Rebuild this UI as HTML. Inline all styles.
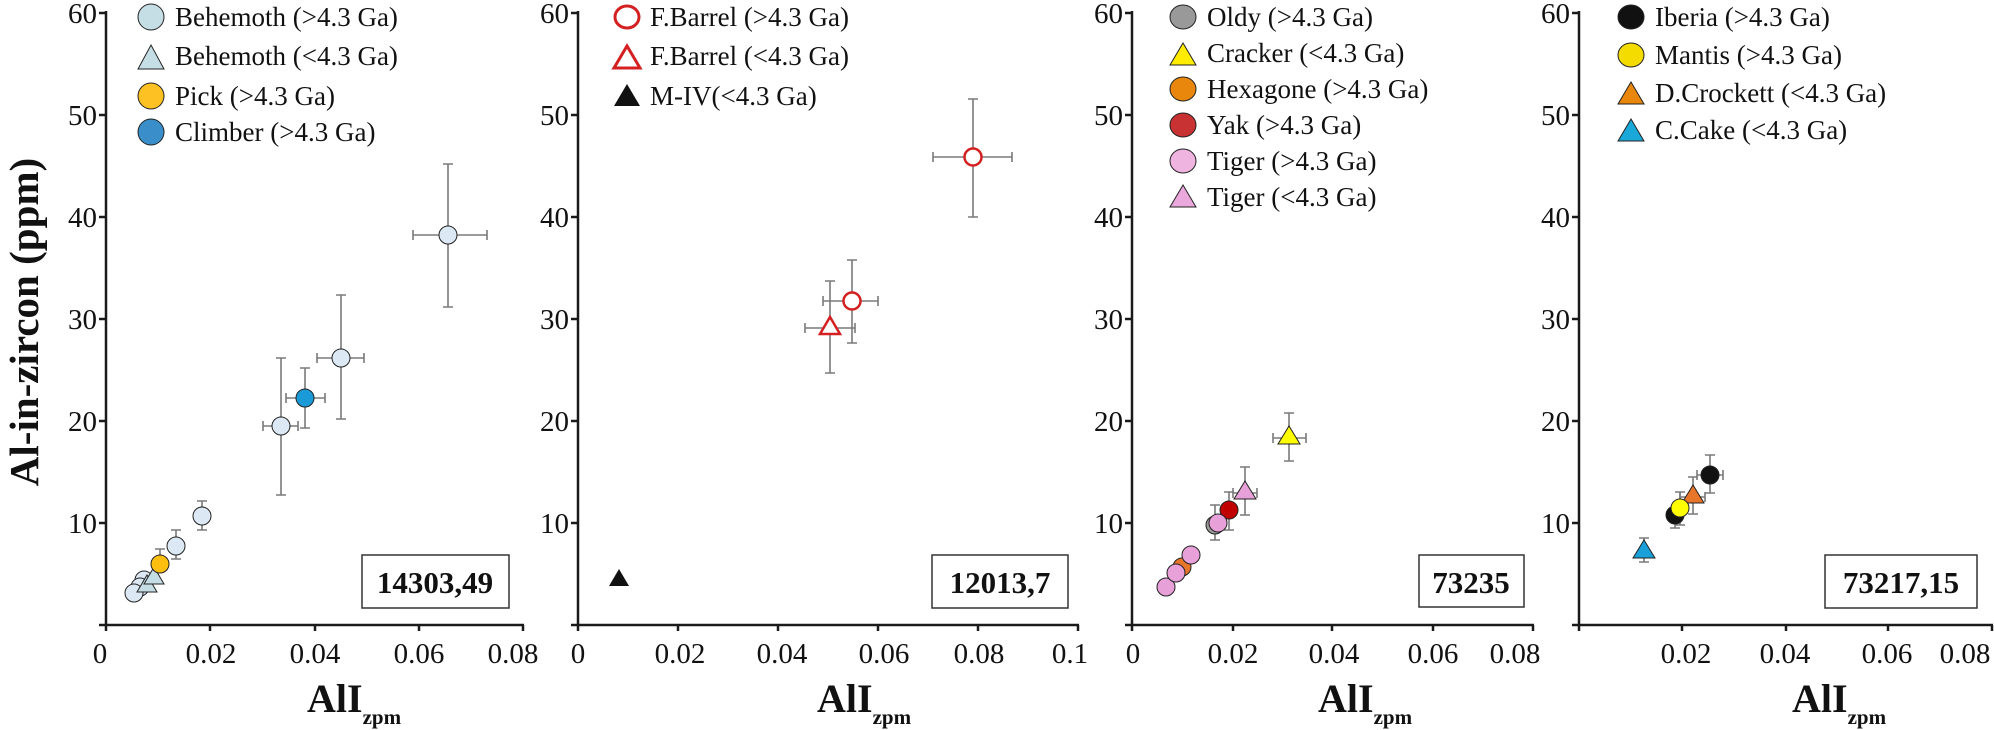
<!DOCTYPE html>
<html><head><meta charset="utf-8"><style>
html,body{margin:0;padding:0;background:#fff;}
svg{display:block;font-family:"Liberation Serif","DejaVu Serif",serif;}
svg text{font-family:"Liberation Serif","DejaVu Serif",serif !important;fill:#111;}
.tk{font-size:29px;}
.lg{font-size:27px;}
.bx{font-size:31px;font-weight:bold;}
.ax{stroke:#1a1a1a;stroke-width:2.5;fill:none;}
.eb{stroke:#7a7a7a;stroke-width:1.6;fill:none;}
.m{stroke:#222;stroke-width:1;}
</style></head><body>
<svg width="1994" height="730" viewBox="0 0 1994 730" xmlns="http://www.w3.org/2000/svg" font-family="Liberation Serif, serif">
<defs>
<g id="yt">
<line x1="-7" y1="13" x2="0" y2="13" class="ax"/>
<line x1="-7" y1="115" x2="0" y2="115" class="ax"/>
<line x1="-7" y1="217" x2="0" y2="217" class="ax"/>
<line x1="-7" y1="319" x2="0" y2="319" class="ax"/>
<line x1="-7" y1="421" x2="0" y2="421" class="ax"/>
<line x1="-7" y1="523" x2="0" y2="523" class="ax"/>
<line x1="-7" y1="625" x2="0" y2="625" class="ax"/>
<line x1="0" y1="11" x2="0" y2="626" class="ax"/>
<g text-anchor="end" font-family="Liberation Serif, serif" font-size="29">
<text x="-9" y="23">60</text>
<text x="-9" y="125">50</text>
<text x="-9" y="227">40</text>
<text x="-9" y="329">30</text>
<text x="-9" y="431">20</text>
<text x="-9" y="533">10</text>
</g>
</g>
</defs>

<text transform="translate(38,322) rotate(-90)" text-anchor="middle" font-family="Liberation Serif, serif" style="font-size:41px;font-weight:bold;">Al-in-zircon (ppm)</text>

<!-- ============ Panel 1 ============ -->
<use href="#yt" x="106"/>
<line x1="106" y1="625" x2="524" y2="625" class="ax"/>
<g class="ax"><line x1="106" y1="625" x2="106" y2="631"/><line x1="210" y1="625" x2="210" y2="631"/><line x1="315" y1="625" x2="315" y2="631"/><line x1="419" y1="625" x2="419" y2="631"/><line x1="523" y1="625" x2="523" y2="631"/></g>
<g class="tk" text-anchor="middle"><text x="100" y="663" class="tk">0</text><text x="211" y="663" class="tk">0.02</text><text x="315" y="663" class="tk">0.04</text><text x="419" y="663" class="tk">0.06</text><text x="513" y="663" class="tk">0.08</text></g>
<text x="307" y="712" style="font-size:40px;font-weight:bold;">AlI<tspan dy="12" style="font-size:21px;">zpm</tspan></text>
<rect x="362" y="555" width="147" height="53" fill="#fff" stroke="#333" stroke-width="1.5"/>
<text x="435" y="593" text-anchor="middle" class="bx">14303,49</text>
<ellipse cx="151" cy="17" rx="13" ry="13" fill="#c5dde4" class="m"/>
<polygon points="138,69 164,69 151,45" fill="#c5dde4" class="m"/>
<ellipse cx="151" cy="96" rx="13" ry="13" fill="#fdc124" class="m"/>
<ellipse cx="151" cy="132" rx="13" ry="13" fill="#3a8fca" class="m"/>
<text x="175" y="26" class="lg">Behemoth (&gt;4.3 Ga)</text>
<text x="175" y="65" class="lg">Behemoth (&lt;4.3 Ga)</text>
<text x="175" y="105" class="lg">Pick (&gt;4.3 Ga)</text>
<text x="175" y="141" class="lg">Climber (&gt;4.3 Ga)</text>
<g class="eb">
<path d="M413,235H487M413,230V240M487,230V240M448,164V307M443,164H453M443,307H453"/>
<path d="M317,358H364M317,353V363M364,353V363M341,295V419M336,295H346M336,419H346"/>
<path d="M286,398H325M286,393V403M325,393V403M305,368V428M300,368H310M300,428H310"/>
<path d="M263,426H298M263,421V431M298,421V431M281,358V495M276,358H286M276,495H286"/>
<path d="M194,516H210M202,501V530M197,501H207M197,530H207"/>
<path d="M176,530V559M171,530H181M171,559H181"/>
<path d="M160,549V564M155,549H165"/>
</g>
<g class="m" fill="#dce9f5">
<circle cx="448" cy="235" r="9"/>
<circle cx="341" cy="358" r="9"/>
<circle cx="281" cy="426" r="9"/>
<circle cx="202" cy="516" r="9"/>
<circle cx="176" cy="546" r="9"/>
<circle cx="144" cy="580" r="9"/>
<circle cx="140" cy="587" r="9"/>
<circle cx="134" cy="593" r="9"/>
<polygon points="137,592 157,592 147,575" fill="#c5dde4"/>
<polygon points="144,584 164,584 154,567" fill="#c5dde4"/>
</g>
<circle cx="305" cy="398" r="9" fill="#1a9ad6" class="m"/>
<circle cx="160" cy="564" r="9" fill="#fdbf0f" class="m"/>

<!-- ============ Panel 2 ============ -->
<use href="#yt" x="578"/>
<line x1="578" y1="625" x2="1079" y2="625" class="ax"/>
<g class="ax"><line x1="578" y1="625" x2="578" y2="631"/><line x1="678" y1="625" x2="678" y2="631"/><line x1="778" y1="625" x2="778" y2="631"/><line x1="878" y1="625" x2="878" y2="631"/><line x1="978" y1="625" x2="978" y2="631"/><line x1="1078" y1="625" x2="1078" y2="631"/></g>
<g class="tk" text-anchor="middle"><text x="578" y="663" class="tk">0</text><text x="680" y="663" class="tk">0.02</text><text x="782" y="663" class="tk">0.04</text><text x="884" y="663" class="tk">0.06</text><text x="979" y="663" class="tk">0.08</text><text x="1070" y="663" class="tk">0.1</text></g>
<text x="817" y="712" style="font-size:40px;font-weight:bold;">AlI<tspan dy="12" style="font-size:21px;">zpm</tspan></text>
<rect x="932" y="555" width="136" height="53" fill="#fff" stroke="#333" stroke-width="1.5"/>
<text x="1000" y="593" text-anchor="middle" class="bx">12013,7</text>
<ellipse cx="627" cy="17" rx="12" ry="11" fill="#fff" stroke="#d42020" stroke-width="3"/>
<polygon points="614,68 640,68 627,46" fill="#fff" stroke="#d42020" stroke-width="3"/>
<polygon points="614,106 640,106 627,84" fill="#111"/>
<text x="650" y="26" class="lg">F.Barrel (&gt;4.3 Ga)</text>
<text x="650" y="65" class="lg">F.Barrel (&lt;4.3 Ga)</text>
<text x="650" y="105" class="lg">M-IV(&lt;4.3 Ga)</text>
<g class="eb">
<path d="M933,157H1012M933,152V162M1012,152V162M973,99V217M968,99H978M968,217H978"/>
<path d="M823,301H878M823,296V306M878,296V306M852,260V343M847,260H857M847,343H857"/>
<path d="M805,328H855M805,323V333M855,323V333M830,281V373M825,281H835M825,373H835"/>
</g>
<circle cx="973" cy="157" r="8.5" fill="#fff" stroke="#d42020" stroke-width="2.5"/>
<circle cx="852" cy="301" r="8.5" fill="#fff" stroke="#d42020" stroke-width="2.5"/>
<polygon points="820,334 840,334 830,317" fill="#fff" stroke="#d42020" stroke-width="2.5"/>
<polygon points="609,586 629,586 619,569" fill="#111"/>

<!-- ============ Panel 3 ============ -->
<use href="#yt" x="1132"/>
<line x1="1132" y1="625" x2="1534" y2="625" class="ax"/>
<g class="ax"><line x1="1132" y1="625" x2="1132" y2="631"/><line x1="1233" y1="625" x2="1233" y2="631"/><line x1="1332" y1="625" x2="1332" y2="631"/><line x1="1433" y1="625" x2="1433" y2="631"/><line x1="1533" y1="625" x2="1533" y2="631"/></g>
<g class="tk" text-anchor="middle"><text x="1133" y="663" class="tk">0</text><text x="1233" y="663" class="tk">0.02</text><text x="1334" y="663" class="tk">0.04</text><text x="1433" y="663" class="tk">0.06</text><text x="1515" y="663" class="tk">0.08</text></g>
<text x="1318" y="712" style="font-size:40px;font-weight:bold;">AlI<tspan dy="12" style="font-size:21px;">zpm</tspan></text>
<rect x="1419" y="555" width="105" height="52" fill="#fff" stroke="#333" stroke-width="1.5"/>
<text x="1471" y="593" text-anchor="middle" class="bx">73235</text>
<ellipse cx="1183" cy="17" rx="13" ry="12" fill="#999" class="m"/>
<polygon points="1170,65 1196,65 1183,43" fill="#ffec00" class="m"/>
<ellipse cx="1183" cy="89" rx="13" ry="12" fill="#e8870c" class="m"/>
<ellipse cx="1183" cy="125" rx="13" ry="12" fill="#c83232" class="m"/>
<ellipse cx="1183" cy="161" rx="13" ry="12" fill="#f0b4e0" class="m"/>
<polygon points="1170,207 1196,207 1183,185" fill="#eaa8dc" class="m"/>
<text x="1207" y="26" class="lg">Oldy (&gt;4.3 Ga)</text>
<text x="1207" y="62" class="lg">Cracker (&lt;4.3 Ga)</text>
<text x="1207" y="98" class="lg">Hexagone (&gt;4.3 Ga)</text>
<text x="1207" y="134" class="lg">Yak (&gt;4.3 Ga)</text>
<text x="1207" y="170" class="lg">Tiger (&gt;4.3 Ga)</text>
<text x="1207" y="206" class="lg">Tiger (&lt;4.3 Ga)</text>
<g class="eb">
<path d="M1273,438H1306M1273,433V443M1306,433V443M1289,413V461M1284,413H1294M1284,461H1294"/>
<path d="M1233,493H1257M1233,488V498M1257,488V498M1245,467V515M1240,467H1250M1240,515H1250"/>
<path d="M1229,492V530M1224,492H1234M1224,530H1234"/>
<path d="M1215,505V540M1210,505H1220M1210,540H1220"/>
</g>
<g class="m">
<circle cx="1166" cy="587" r="9" fill="#e8a0d8"/>
<circle cx="1182" cy="567" r="9" fill="#e8762a"/>
<circle cx="1176" cy="573" r="9" fill="#e8a0d8"/>
<circle cx="1191" cy="555" r="9" fill="#e8a0d8"/>
<circle cx="1215" cy="525" r="9" fill="#999"/>
<circle cx="1229" cy="510" r="9" fill="#c00000"/>
<circle cx="1218" cy="523" r="9" fill="#e8a0d8"/>
<polygon points="1234,499 1256,499 1245,481" fill="#e8a0d8"/>
<polygon points="1278,444 1300,444 1289,426" fill="#ffff00"/>
</g>

<!-- ============ Panel 4 ============ -->
<use href="#yt" x="1579"/>
<line x1="1579" y1="625" x2="1993" y2="625" class="ax"/>
<g class="ax"><line x1="1579" y1="625" x2="1579" y2="631"/><line x1="1682" y1="625" x2="1682" y2="631"/><line x1="1786" y1="625" x2="1786" y2="631"/><line x1="1888" y1="625" x2="1888" y2="631"/><line x1="1992" y1="625" x2="1992" y2="631"/></g>
<g class="tk" text-anchor="middle"><text x="1686" y="663" class="tk">0.02</text><text x="1785" y="663" class="tk">0.04</text><text x="1887" y="663" class="tk">0.06</text><text x="1965" y="663" class="tk">0.08</text></g>
<text x="1792" y="712" style="font-size:40px;font-weight:bold;">AlI<tspan dy="12" style="font-size:21px;">zpm</tspan></text>
<rect x="1825" y="555" width="152" height="53" fill="#fff" stroke="#333" stroke-width="1.5"/>
<text x="1901" y="593" text-anchor="middle" class="bx">73217,15</text>
<ellipse cx="1631" cy="17" rx="13" ry="12" fill="#111" class="m"/>
<ellipse cx="1631" cy="55" rx="13" ry="12" fill="#f5dc00" class="m"/>
<polygon points="1618,104 1644,104 1631,82" fill="#e8870c" class="m"/>
<polygon points="1618,141 1644,141 1631,119" fill="#1aa8d8" class="m"/>
<text x="1655" y="26" class="lg">Iberia (&gt;4.3 Ga)</text>
<text x="1655" y="64" class="lg">Mantis (&gt;4.3 Ga)</text>
<text x="1655" y="102" class="lg">D.Crockett (&lt;4.3 Ga)</text>
<text x="1655" y="139" class="lg">C.Cake (&lt;4.3 Ga)</text>
<g class="eb">
<path d="M1697,475H1723M1697,470V480M1723,470V480M1710,455V493M1705,455H1715M1705,493H1715"/>
<path d="M1680,497H1705M1680,492V502M1705,492V502M1693,477V514M1688,477H1698M1688,514H1698"/>
<path d="M1675,504V528M1670,528H1680"/>
<path d="M1680,492V525M1675,492H1685M1675,525H1685"/>
<path d="M1644,538V562M1639,538H1649M1639,562H1649"/>
</g>
<g class="m">
<circle cx="1710" cy="475" r="9" fill="#111"/>
<polygon points="1682,503 1704,503 1693,485" fill="#e8762a"/>
<circle cx="1675" cy="515" r="9" fill="#111"/>
<circle cx="1680" cy="508" r="9" fill="#ffff00"/>
<polygon points="1633,558 1655,558 1644,540" fill="#1aa0d8"/>
</g>
</svg>
</body></html>
